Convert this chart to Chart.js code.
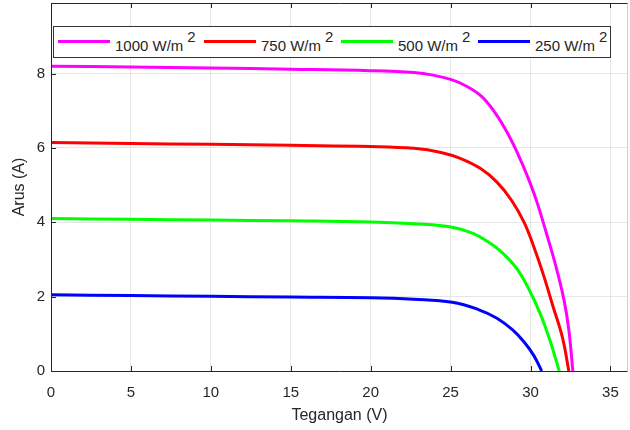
<!DOCTYPE html>
<html>
<head>
<meta charset="utf-8">
<script src="https://cdn.jsdelivr.net/npm/chart.js@4.4.0/dist/chart.umd.min.js"></script>
<style>
  body { margin: 0; background: #fff; }
  #wrap { position: relative; width: 630px; height: 430px; }
  #legend {
    position: absolute; left: 53px; top: 26px; width: 558px; height: 32px;
    border: 1px solid #333; background: #fff; box-sizing: border-box;
    font-family: "Liberation Sans", Arial, sans-serif; font-size: 15px; color: #262626;
  }
  .item { position: absolute; top: 0; height: 30px; }
  .item .ln { position: absolute; top: 13px; width: 52px; height: 3px; }
  .item .tx { position: absolute; left: 57px; top: 10px; line-height: 17px; white-space: nowrap; }
  .item .sp { position: relative; top: -9px; margin-left: 4px; }
</style>
</head>
<body>
<div id="wrap">
  <canvas id="ivChart" width="630" height="430"></canvas>
  <div id="legend"></div>
</div>
<script>
const labels = ['1000 W/m', '750 W/m', '500 W/m', '250 W/m'];
const colors = ['#ff00ff', '#ff0000', '#00ff00', '#0000ff'];

const v1000 = [0, 5, 10, 15, 20, 22.7, 23.9, 25.1, 26.0, 26.9, 27.7, 28.5, 29.2, 29.8, 30.4, 31.0, 31.6, 32.1, 32.4, 32.65];
const i1000 = [8.2, 8.18, 8.15, 8.12, 8.08, 8.03, 7.96, 7.83, 7.66, 7.4, 7.0, 6.45, 5.85, 5.25, 4.55, 3.7, 2.8, 1.9, 1.1, 0];

const v750 = [0, 5, 10, 15, 20, 22.7, 24.4, 25.6, 26.9, 27.9, 28.8, 29.6, 30.2, 30.8, 31.4, 32.0, 32.4];
const i750 = [6.15, 6.12, 6.1, 6.07, 6.04, 5.99, 5.88, 5.72, 5.44, 5.08, 4.6, 4.0, 3.35, 2.6, 1.75, 0.9, 0];

const v500 = [0, 5, 10, 15, 20, 22.7, 25.1, 26.4, 27.7, 28.5, 29.2, 29.9, 30.6, 31.2, 31.8];
const i500 = [4.1, 4.08, 4.06, 4.04, 4.01, 3.96, 3.87, 3.7, 3.37, 3.07, 2.72, 2.2, 1.55, 0.85, 0];

const v250 = [0, 5, 10, 15, 20, 22.7, 25.1, 26.7, 27.9, 28.9, 29.6, 30.2, 30.7];
const i250 = [2.05, 2.03, 2.01, 1.99, 1.97, 1.93, 1.85, 1.66, 1.42, 1.1, 0.78, 0.42, 0];

const xTicks = [0, 5, 10, 15, 20, 25, 30, 35];
const yTicks = [0, 2, 4, 6, 8];

const volts = [v1000, v750, v500, v250];
const amps = [i1000, i750, i500, i250];

const datasets = labels.map((label, k) => ({
  label: label,
  data: volts[k].map((v, j) => ({ x: v, y: amps[k][j] })),
  borderColor: colors[k],
  backgroundColor: colors[k],
  borderWidth: 3,
  pointRadius: 0,
  showLine: true,
  tension: 0.4,
  clip: false
}));

// box round the plot and MATLAB-style inward ticks
const frame = {
  id: 'frame',
  afterDraw(chart) {
    const { ctx, chartArea: a, scales } = chart;
    ctx.save();
    ctx.lineWidth = 1;
    ctx.strokeStyle = '#d0d0d0';
    ctx.beginPath();
    ctx.moveTo(a.right - 0.5, a.top);
    ctx.lineTo(a.right - 0.5, a.bottom);
    ctx.stroke();
    ctx.strokeStyle = '#262626';
    ctx.beginPath();
    ctx.moveTo(a.left + 0.5, a.bottom + 0.5);
    ctx.lineTo(a.left + 0.5, a.top + 0.5);
    ctx.lineTo(a.right - 0.5, a.top + 0.5);
    ctx.moveTo(a.left + 0.5, a.bottom + 0.5);
    ctx.lineTo(a.right - 0.5, a.bottom + 0.5);
    xTicks.forEach(t => {
      const px = Math.round(scales.x.getPixelForValue(t)) + 0.5;
      ctx.moveTo(px, a.bottom); ctx.lineTo(px, a.bottom - 5);
      ctx.moveTo(px, a.top); ctx.lineTo(px, a.top + 5);
    });
    yTicks.forEach(t => {
      const py = Math.round(scales.y.getPixelForValue(t)) + 0.5;
      ctx.moveTo(a.left, py); ctx.lineTo(a.left + 5, py);
    });
    ctx.stroke();
    ctx.restore();
  }
};

const ctx = document.getElementById('ivChart').getContext('2d');
new Chart(ctx, {
  type: 'scatter',
  data: { datasets: datasets },
  options: {
    responsive: false,
    animation: false,
    layout: { autoPadding: false, padding: { top: 3, right: 2, left: 0, bottom: 0 } },
    plugins: { legend: { display: false }, tooltip: { enabled: false } },
    scales: {
      x: {
        type: 'linear',
        min: 0,
        max: 36.1,
        afterBuildTicks: s => { s.ticks = xTicks.map(v => ({ value: v })); },
        afterFit: s => { s.height = 59; s.paddingLeft = 0; s.paddingRight = 0; },
        grid: { color: '#e6e6e6', drawTicks: false },
        border: { display: false },
        ticks: {
          padding: 13,
          color: '#262626',
          font: { family: 'Liberation Sans', size: 15 }
        },
        title: {
          display: true,
          text: 'Tegangan (V)',
          color: '#262626',
          padding: { top: 0, bottom: 5 },
          font: { family: 'Liberation Sans', size: 16 }
        }
      },
      y: {
        type: 'linear',
        min: 0,
        max: 9.9,
        afterBuildTicks: s => { s.ticks = yTicks.map(v => ({ value: v })); },
        afterFit: s => { s.width = 51; s.paddingTop = 0; s.paddingBottom = 0; },
        grid: { color: '#e6e6e6', drawTicks: false },
        border: { display: false },
        ticks: {
          padding: 6,
          color: '#262626',
          font: { family: 'Liberation Sans', size: 15 }
        },
        title: {
          display: true,
          text: 'Arus (A)',
          color: '#262626',
          padding: { top: 10, bottom: 0 },
          font: { family: 'Liberation Sans', size: 16 }
        }
      }
    }
  },
  plugins: [frame]
});

// legend drawn as html text so the superscript can sit like the original
const lefts = [4, 150, 287, 424];
const legend = document.getElementById('legend');
labels.forEach((label, k) => {
  const it = document.createElement('div');
  it.className = 'item';
  it.style.left = lefts[k] + 'px';
  it.innerHTML = '<div class="ln" style="background:' + colors[k] + '"></div>' +
    '<div class="tx">' + label + '<span class="sp">2</span></div>';
  legend.appendChild(it);
});
</script>
</body>
</html>
